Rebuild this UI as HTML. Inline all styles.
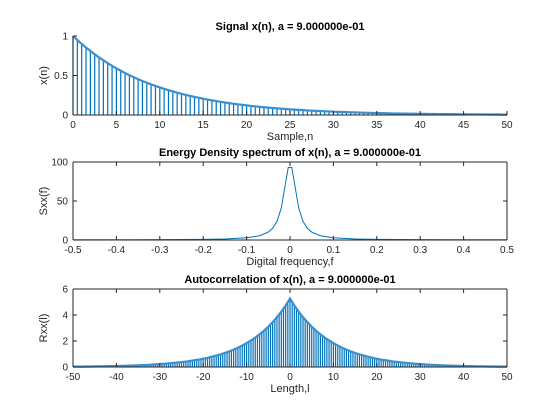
<!DOCTYPE html>
<html><head><meta charset="utf-8"><style>
html,body{margin:0;padding:0;background:#fff;}
svg{display:block;font-family:"Liberation Sans",Arial,sans-serif;}
</style></head><body>
<svg id="c" width="560" height="420"></svg>
<script>
// Data
const xnVals = [1,.949,.9,.854,.81,.768,.729,.692,.656,.623,.590,.560,.531,.504,.478,.454,.430,.408,.387,.368,.349,.331,.314,.298,.282,.268,.254,.241,.229,.217,.206,.195,.185,.176,.167,.158,.150,.142,.135,.128,.122,.115,.109,.104,.098,.093,.089,.084,.080,.076,.072,.068,.065,.062,.058,.055,.052,.050,.047,.045,.042,.040,.038,.036,.034,.033,.031,.029,.028,.026,.025,.024,.023,.021,.020,.019,.018,.017,.016,.016,.015,.014,.013,.013,.012,.011,.011,.010,.010,.009,.009,.008,.008,.008,.007,.007,.006,.006,.006,.005,.005];
const sampleStep = 0.5;
const specF = [-0.5,-0.4,-0.3,-0.2,-0.15,-0.1,-0.07,-0.05,-0.04,-0.03,-0.02,-0.01,-0.004,0.004,0.01,0.02,0.03,0.04,0.05,0.07,0.1,0.15,0.2,0.3,0.4,0.5];
const specVals = [0.28,0.31,0.42,0.80,1.33,2.83,5.5,10.2,15.0,23.9,41.3,73.8,93,93,73.8,41.3,23.9,15.0,10.2,5.5,2.83,1.33,0.80,0.42,0.31,0.28];
const rxxHalf = [5.26,4.99,4.73,4.49,4.26,4.04,3.83,3.64,3.45,3.28,3.10,2.95,2.79,2.65,2.51,2.39,2.26,2.15,2.04,1.94,1.84,1.74,1.65,1.57,1.48,1.41,1.34,1.27,1.20,1.14,1.08,1.03,0.97,0.93,0.88,0.83,0.79,0.75,0.71,0.67,0.64,0.60,0.57,0.55,0.52,0.49,0.47,0.44,0.42,0.40,0.38,0.36,0.34,0.33,0.31,0.29,0.28,0.26,0.25,0.24,0.22,0.21,0.20,0.19,0.18,0.17,0.16,0.16,0.15,0.14,0.13,0.13,0.12,0.11,0.11,0.10,0.10,0.09,0.09,0.08,0.08,0.07,0.07,0.07,0.06,0.06,0.06,0.05,0.05,0.05,0.05,0.04,0.04,0.04,0.04,0.03,0.03,0.03,0.03,0.03,0.03];
const ticks1X = [0,5,10,15,20,25,30,35,40,45,50];
const ticks1Y = [0,0.5,1];
const ticks2X = [-0.5,-0.4,-0.3,-0.2,-0.1,0,0.1,0.2,0.3,0.4,0.5];
const ticks2Y = [0,50,100];
const ticks3X = [-50,-40,-30,-20,-10,0,10,20,30,40,50];
const ticks3Y = [0,2,4,6];

const svg = document.getElementById('c');
const NS = 'http://www.w3.org/2000/svg';
function mk(tag, attrs, parent){const e=document.createElementNS(NS,tag);for(const k in attrs)e.setAttribute(k,attrs[k]);(parent||svg).appendChild(e);return e;}
const L=73,R=507,BLUE='#0072bd';

function axes(o){
  const g=mk('g',{});
  
  
  const sx=v=>L+(v-o.x0)/(o.x1-o.x0)*(R-L);
  const sy=v=>o.b-(v-o.y0)/(o.y1-o.y0)*(o.b-o.t);
  o.draw(g,sx,sy);
  mk('line',{x1:L,y1:o.b,x2:R,y2:o.b,stroke:'#262626','stroke-width':1},g);
  mk('line',{x1:L,y1:o.t,x2:L,y2:o.b,stroke:'#262626','stroke-width':1},g);
  if(o.box){
    mk('line',{x1:L,y1:o.t,x2:R,y2:o.t,stroke:'#262626','stroke-width':1},g);
    mk('line',{x1:R,y1:o.t,x2:R,y2:o.b,stroke:'#262626','stroke-width':1},g);
  }
  o.tx.forEach(v=>{const x=sx(v);
    mk('line',{x1:x,y1:o.b,x2:x,y2:o.b-4,stroke:'#262626'},g);
    if(o.box)mk('line',{x1:x,y1:o.t,x2:x,y2:o.t+4,stroke:'#262626'},g);
    const t=mk('text',{x:x,y:o.b+13,'font-size':10,'text-anchor':'middle',fill:'#262626'},g);t.textContent=v;
    
    
  });
  o.ty.forEach(v=>{const y=sy(v);
    mk('line',{x1:L,y1:y,x2:L+4,y2:y,stroke:'#262626'},g);
    if(o.box)mk('line',{x1:R,y1:y,x2:R-4,y2:y,stroke:'#262626'},g);
    const t=mk('text',{x:L-5,y:y+3.5,'font-size':10,'text-anchor':'end',fill:'#262626'},g);t.textContent=v;
    
    
  });
  const ti=mk('text',{x:290,y:o.t-6,'font-size':11,'font-weight':'bold','text-anchor':'middle',fill:'#000'},g);ti.textContent=o.title;
  
  
  const xl=mk('text',{x:290,y:o.b+25,'font-size':11,'text-anchor':'middle',fill:'#262626'},g);xl.textContent=o.xl;
  
  
  const yc=(o.t+o.b)/2;
  const yl=mk('text',{x:L-26,y:yc,'font-size':11,'text-anchor':'middle',fill:'#262626',transform:`rotate(-90 ${L-26} ${yc})`},g);yl.textContent=o.yl;
  
  
}

function stems(g,xs,ys,sx,sy){
  let d='',pts=[];
  xs.forEach((x,i)=>{const px=sx(x),py=sy(ys[i]);d+=`M${px} ${sy(0)}V${py}`;pts.push(px+','+py);});
  const p=mk('path',{d:d,stroke:BLUE,'stroke-width':1.2,fill:'none'},g);
  
  
  const m=mk('polyline',{points:pts.join(' '),stroke:'#3a8fd0','stroke-width':2.2,fill:'none'},g);
  
  
}

axes({name:'signal-plot',x0:0,x1:50,y0:0,y1:1,t:36,b:115,box:false,tx:ticks1X,ty:ticks1Y,
  title:'Signal x(n), a = 9.000000e-01',xl:'Sample,n',yl:'x(n)',
  draw:(g,sx,sy)=>{const xs=xnVals.map((v,i)=>i*sampleStep);stems(g,xs,xnVals,sx,sy);}});

axes({name:'energy-spectrum-plot',x0:-0.5,x1:0.5,y0:0,y1:100,t:162,b:240,box:true,tx:ticks2X,ty:ticks2Y,
  title:'Energy Density spectrum of x(n), a = 9.000000e-01',xl:'Digital frequency,f',yl:'Sxx(f)',
  draw:(g,sx,sy)=>{const p=mk('polyline',{points:specF.map((f,i)=>sx(f)+','+sy(specVals[i])).join(' '),stroke:BLUE,'stroke-width':1,fill:'none'},g);
    
    }});

axes({name:'autocorrelation-plot',x0:-50,x1:50,y0:0,y1:6,t:289,b:367,box:true,tx:ticks3X,ty:ticks3Y,
  title:'Autocorrelation of x(n), a = 9.000000e-01',xl:'Length,l',yl:'Rxx(l)',
  draw:(g,sx,sy)=>{const xs=[],ys=[];const n=rxxHalf.length;
    for(let i=n-1;i>=1;i--){xs.push(-i*sampleStep);ys.push(rxxHalf[i]);}
    for(let i=0;i<n;i++){xs.push(i*sampleStep);ys.push(rxxHalf[i]);}
    stems(g,xs,ys,sx,sy);}});
</script>
</body></html>
